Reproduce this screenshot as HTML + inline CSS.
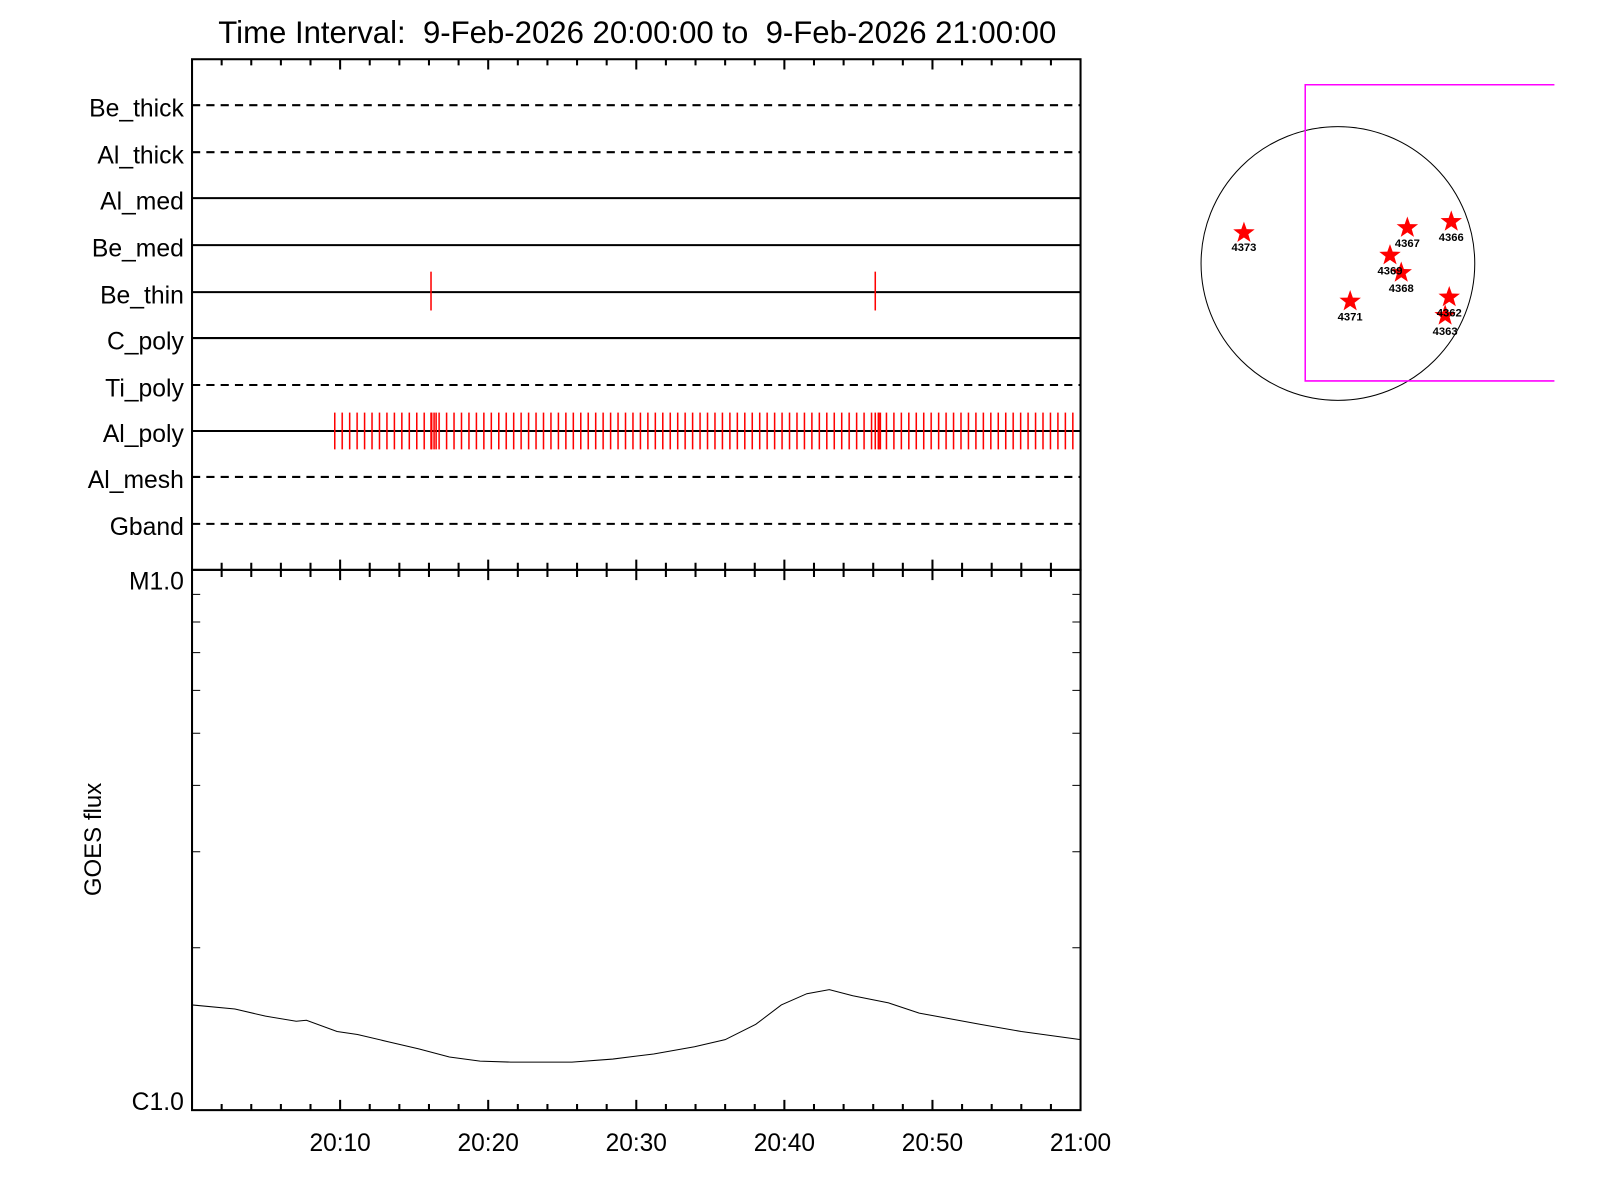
<!DOCTYPE html>
<html><head><meta charset="utf-8"><style>html,body{margin:0;padding:0;background:#fff}svg{display:block}</style></head>
<body>
<svg width="1600" height="1200" viewBox="0 0 1566.6 1175" xmlns="http://www.w3.org/2000/svg" font-family="Liberation Sans, sans-serif">
<defs>
<pattern id="tk" x="327" y="0" width="7.3" height="1200" patternUnits="userSpaceOnUse">
<rect x="0" y="0" width="1.5" height="1200" fill="#f00"/>
</pattern>
</defs>
<text x="624" y="42" font-size="30.5" text-anchor="middle" style="white-space:pre" xml:space="preserve">Time Interval:  9-Feb-2026 20:00:00 to  9-Feb-2026 21:00:00</text>
<g font-size="24.2" text-anchor="end">
<text x="180" y="114">Be_thick</text>
<text x="180" y="160">Al_thick</text>
<text x="180" y="205">Al_med</text>
<text x="180" y="251">Be_med</text>
<text x="180" y="297">Be_thin</text>
<text x="180" y="342">C_poly</text>
<text x="180" y="388">Ti_poly</text>
<text x="180" y="433">Al_poly</text>
<text x="180" y="478">Al_mesh</text>
<text x="180" y="524">Gband</text>
<text x="180" y="577">M1.0</text>
<text x="180" y="1087">C1.0</text>
</g>
<text transform="translate(99,822) rotate(-90)" font-size="23.5" text-anchor="middle">GOES flux</text>
<g stroke="#000" stroke-width="2">
<line x1="188" y1="103" x2="1058" y2="103" stroke-dasharray="8,6"/>
<line x1="188" y1="149" x2="1058" y2="149" stroke-dasharray="8,6"/>
<line x1="188" y1="194" x2="1058" y2="194"/>
<line x1="188" y1="240" x2="1058" y2="240"/>
<line x1="188" y1="286" x2="1058" y2="286"/>
<line x1="188" y1="331" x2="1058" y2="331"/>
<line x1="188" y1="377" x2="1058" y2="377" stroke-dasharray="8,6"/>
<line x1="188" y1="422" x2="1058" y2="422"/>
<line x1="188" y1="467" x2="1058" y2="467" stroke-dasharray="8,6"/>
<line x1="188" y1="513" x2="1058" y2="513" stroke-dasharray="8,6"/>
</g>
<rect x="327" y="404" width="728" height="36" fill="url(#tk)"/>
<g stroke="#f00" stroke-width="1.5">
<line x1="422" y1="404" x2="422" y2="440"/><line x1="425" y1="404" x2="425" y2="440"/><line x1="427" y1="404" x2="427" y2="440"/>
<line x1="857" y1="404" x2="857" y2="440"/><line x1="860" y1="404" x2="860" y2="440"/><line x1="862" y1="404" x2="862" y2="440"/>
<line x1="422" y1="266" x2="422" y2="304"/><line x1="857" y1="266" x2="857" y2="304"/>
</g>
<g fill="none" stroke="#000" stroke-width="2">
<rect x="188" y="58" width="870" height="500"/>
<rect x="188" y="558" width="870" height="529"/>
</g>
<g stroke="#000" stroke-width="2">
<path d="M217 58v6M246 58v6M275 58v6M304 58v6M333 58v10M362 58v6M391 58v6M420 58v6M449 58v6M478 58v10M507 58v6M536 58v6M565 58v6M594 58v6M623 58v10M652 58v6M681 58v6M710 58v6M739 58v6M768 58v10M797 58v6M826 58v6M855 58v6M884 58v6M913 58v10M942 58v6M971 58v6M1000 58v6M1029 58v6"/>
<path d="M217 551v14M246 551v14M275 551v14M304 551v14M333 548v20M362 551v14M391 551v14M420 551v14M449 551v14M478 548v20M507 551v14M536 551v14M565 551v14M594 551v14M623 548v20M652 551v14M681 551v14M710 551v14M739 551v14M768 548v20M797 551v14M826 551v14M855 551v14M884 551v14M913 548v20M942 551v14M971 551v14M1000 551v14M1029 551v14M1058 548v20"/>
<path d="M217 1087v-6M246 1087v-6M275 1087v-6M304 1087v-6M333 1087v-10M362 1087v-6M391 1087v-6M420 1087v-6M449 1087v-6M478 1087v-10M507 1087v-6M536 1087v-6M565 1087v-6M594 1087v-6M623 1087v-10M652 1087v-6M681 1087v-6M710 1087v-6M739 1087v-6M768 1087v-10M797 1087v-6M826 1087v-6M855 1087v-6M884 1087v-6M913 1087v-10M942 1087v-6M971 1087v-6M1000 1087v-6M1029 1087v-6"/>
</g>
<g stroke="#000" stroke-width="1">
<path d="M188 582h8M188 609h8M188 639h8M188 676h8M188 718h8M188 769h8M188 834h8M188 928h8"/>
<path d="M1058 582h-8M1058 609h-8M1058 639h-8M1058 676h-8M1058 718h-8M1058 769h-8M1058 834h-8M1058 928h-8"/>
</g>
<g font-size="24" text-anchor="middle">
<text x="333" y="1127">20:10</text><text x="478" y="1127">20:20</text><text x="623" y="1127">20:30</text><text x="768" y="1127">20:40</text><text x="913" y="1127">20:50</text><text x="1058" y="1127">21:00</text>
</g>
<polyline fill="none" stroke="#000" stroke-width="1" points="188,984 230,988 260,995 290,1000 300,999 330,1010 350,1013 380,1020 410,1027 440,1035 470,1039 500,1040 560,1040 600,1037 640,1032 680,1025 710,1018 740,1003 765,984 790,973 812,969 835,975 870,982 900,992 960,1003 1000,1010 1058,1018"/>
<circle cx="1310" cy="258" r="134" fill="none" stroke="#000" stroke-width="1"/>
<path d="M1522 83H1278V373H1522" fill="none" stroke="#f0f" stroke-width="1.5"/>
<g fill="#f00">
<polygon points="0,-11 2.6,-3.6 10.5,-3.4 4.3,1.4 6.5,8.9 0,4.5 -6.5,8.9 -4.3,1.4 -10.5,-3.4 -2.6,-3.6" transform="translate(1218,228)"/>
<polygon points="0,-11 2.6,-3.6 10.5,-3.4 4.3,1.4 6.5,8.9 0,4.5 -6.5,8.9 -4.3,1.4 -10.5,-3.4 -2.6,-3.6" transform="translate(1378,223)"/>
<polygon points="0,-11 2.6,-3.6 10.5,-3.4 4.3,1.4 6.5,8.9 0,4.5 -6.5,8.9 -4.3,1.4 -10.5,-3.4 -2.6,-3.6" transform="translate(1421,217)"/>
<polygon points="0,-11 2.6,-3.6 10.5,-3.4 4.3,1.4 6.5,8.9 0,4.5 -6.5,8.9 -4.3,1.4 -10.5,-3.4 -2.6,-3.6" transform="translate(1361,250)"/>
<polygon points="0,-11 2.6,-3.6 10.5,-3.4 4.3,1.4 6.5,8.9 0,4.5 -6.5,8.9 -4.3,1.4 -10.5,-3.4 -2.6,-3.6" transform="translate(1372,267)"/>
<polygon points="0,-11 2.6,-3.6 10.5,-3.4 4.3,1.4 6.5,8.9 0,4.5 -6.5,8.9 -4.3,1.4 -10.5,-3.4 -2.6,-3.6" transform="translate(1322,295)"/>
<polygon points="0,-11 2.6,-3.6 10.5,-3.4 4.3,1.4 6.5,8.9 0,4.5 -6.5,8.9 -4.3,1.4 -10.5,-3.4 -2.6,-3.6" transform="translate(1419,291)"/>
<polygon points="0,-11 2.6,-3.6 10.5,-3.4 4.3,1.4 6.5,8.9 0,4.5 -6.5,8.9 -4.3,1.4 -10.5,-3.4 -2.6,-3.6" transform="translate(1415,309)"/>
</g>
<g font-size="11" text-anchor="middle" font-weight="bold">
<text x="1218" y="246">4373</text><text x="1378" y="242">4367</text><text x="1421" y="236">4366</text><text x="1361" y="269">4369</text><text x="1372" y="286">4368</text><text x="1322" y="314">4371</text><text x="1419" y="310">4362</text><text x="1415" y="328">4363</text>
</g>
</svg>
</body></html>
